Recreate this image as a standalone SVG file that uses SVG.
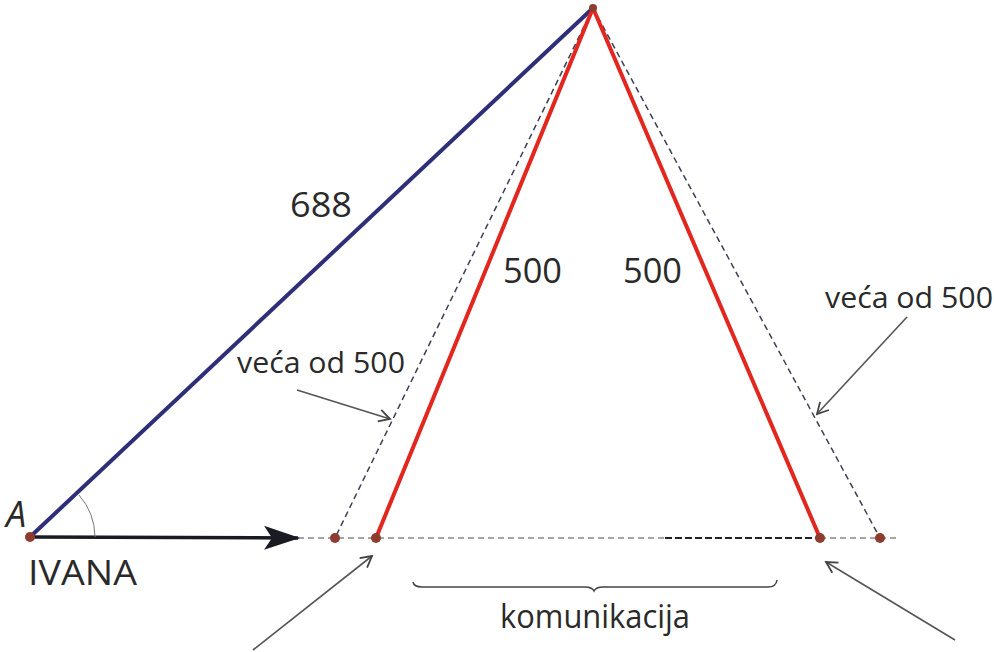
<svg xmlns="http://www.w3.org/2000/svg" width="994" height="652" viewBox="0 0 994 652">
<style>
.lbl{font-family:"Open Sans","Liberation Sans",sans-serif;fill:#2a2a2a}
.dash{stroke:#3a3f55;stroke-width:1.5;stroke-dasharray:6,4;fill:none}
.red{stroke:#e3261e;stroke-width:4;fill:none;stroke-linecap:round}
.ptr{stroke:#555;stroke-width:1.6;fill:none;marker-end:url(#open)}
.dot{fill:#8e3b30}
</style>
<defs>
<marker id="open" markerWidth="14" markerHeight="14" refX="12" refY="7" orient="auto" markerUnits="userSpaceOnUse">
<path d="M1,1 L12,7 L1,13" fill="none" stroke="#444" stroke-width="1.8"/>
</marker>
<marker id="solid" markerWidth="36" markerHeight="26" refX="34" refY="13" orient="auto" markerUnits="userSpaceOnUse">
<path d="M0,1 L36,13 L0,25 L8,13 Z" fill="#1a1a22"/>
</marker>
</defs>
<rect width="994" height="652" fill="#fff"/>
<g id="connectors">
<line x1="298" y1="538" x2="665" y2="538" stroke="#888" stroke-width="1.5" stroke-dasharray="6,4"/>
<line x1="665" y1="538" x2="820" y2="538" stroke="#222" stroke-width="1.8" stroke-dasharray="7,3"/>
<line x1="820" y1="538" x2="900" y2="538" stroke="#888" stroke-width="1.5" stroke-dasharray="6,4"/>
<line class="dash" x1="593" y1="8" x2="335" y2="538"/>
<line class="dash" x1="593" y1="8" x2="880" y2="538"/>
<line x1="30" y1="537" x2="593" y2="8" stroke="#2e2f78" stroke-width="4" stroke-linecap="round"/>
<line class="red" x1="593" y1="8" x2="376" y2="538"/>
<line class="red" x1="593" y1="8" x2="820" y2="538"/>
<line x1="30" y1="537" x2="298" y2="538" stroke="#1a1a22" stroke-width="3.5" marker-end="url(#solid)"/>
<path d="M95,537 A65,65 0 0 0 79,495" fill="none" stroke="#777" stroke-width="1"/>
<line class="ptr" x1="253" y1="650" x2="372" y2="556"/>
<line class="ptr" x1="955" y1="640" x2="826" y2="562"/>
<line class="ptr" x1="297" y1="390" x2="390" y2="419"/>
<line class="ptr" x1="907" y1="317" x2="817" y2="414"/>
<path d="M413,582 Q414,587 422,587 L585,587 Q592,587 594,591 Q596,587 603,587 L768,587 Q776,587 777,580" fill="none" stroke="#444" stroke-width="1.5"/>
</g>
<g id="node-A"><circle class="dot" cx="30" cy="537" r="5"/>
<text class="lbl" x="6" y="527" font-size="36" font-style="italic">A</text>
<text class="lbl" x="28" y="585" font-size="35" textLength="109" lengthAdjust="spacingAndGlyphs">IVANA</text></g>
<g id="node-apex"><circle class="dot" cx="593" cy="8" r="4"/></g>
<g id="node-p1"><circle class="dot" cx="335" cy="538" r="5"/></g>
<g id="node-p2"><circle class="dot" cx="376" cy="538" r="5"/></g>
<g id="node-p3"><circle class="dot" cx="820" cy="538" r="5"/></g>
<g id="node-p4"><circle class="dot" cx="880" cy="538" r="5"/></g>
<g id="labels">
<text class="lbl" x="290" y="217" font-size="34" textLength="62" lengthAdjust="spacingAndGlyphs">688</text>
<text class="lbl" x="503" y="283" font-size="34" textLength="59" lengthAdjust="spacingAndGlyphs">500</text>
<text class="lbl" x="623" y="283" font-size="34" textLength="59" lengthAdjust="spacingAndGlyphs">500</text>
<text class="lbl" x="237" y="373" font-size="30" textLength="168" lengthAdjust="spacingAndGlyphs">veća od 500</text>
<text class="lbl" x="825" y="308" font-size="30" textLength="168" lengthAdjust="spacingAndGlyphs">veća od 500</text>
<text class="lbl" x="500" y="628" font-size="32" textLength="190" lengthAdjust="spacingAndGlyphs">komunikacija</text>
</g>
</svg>
